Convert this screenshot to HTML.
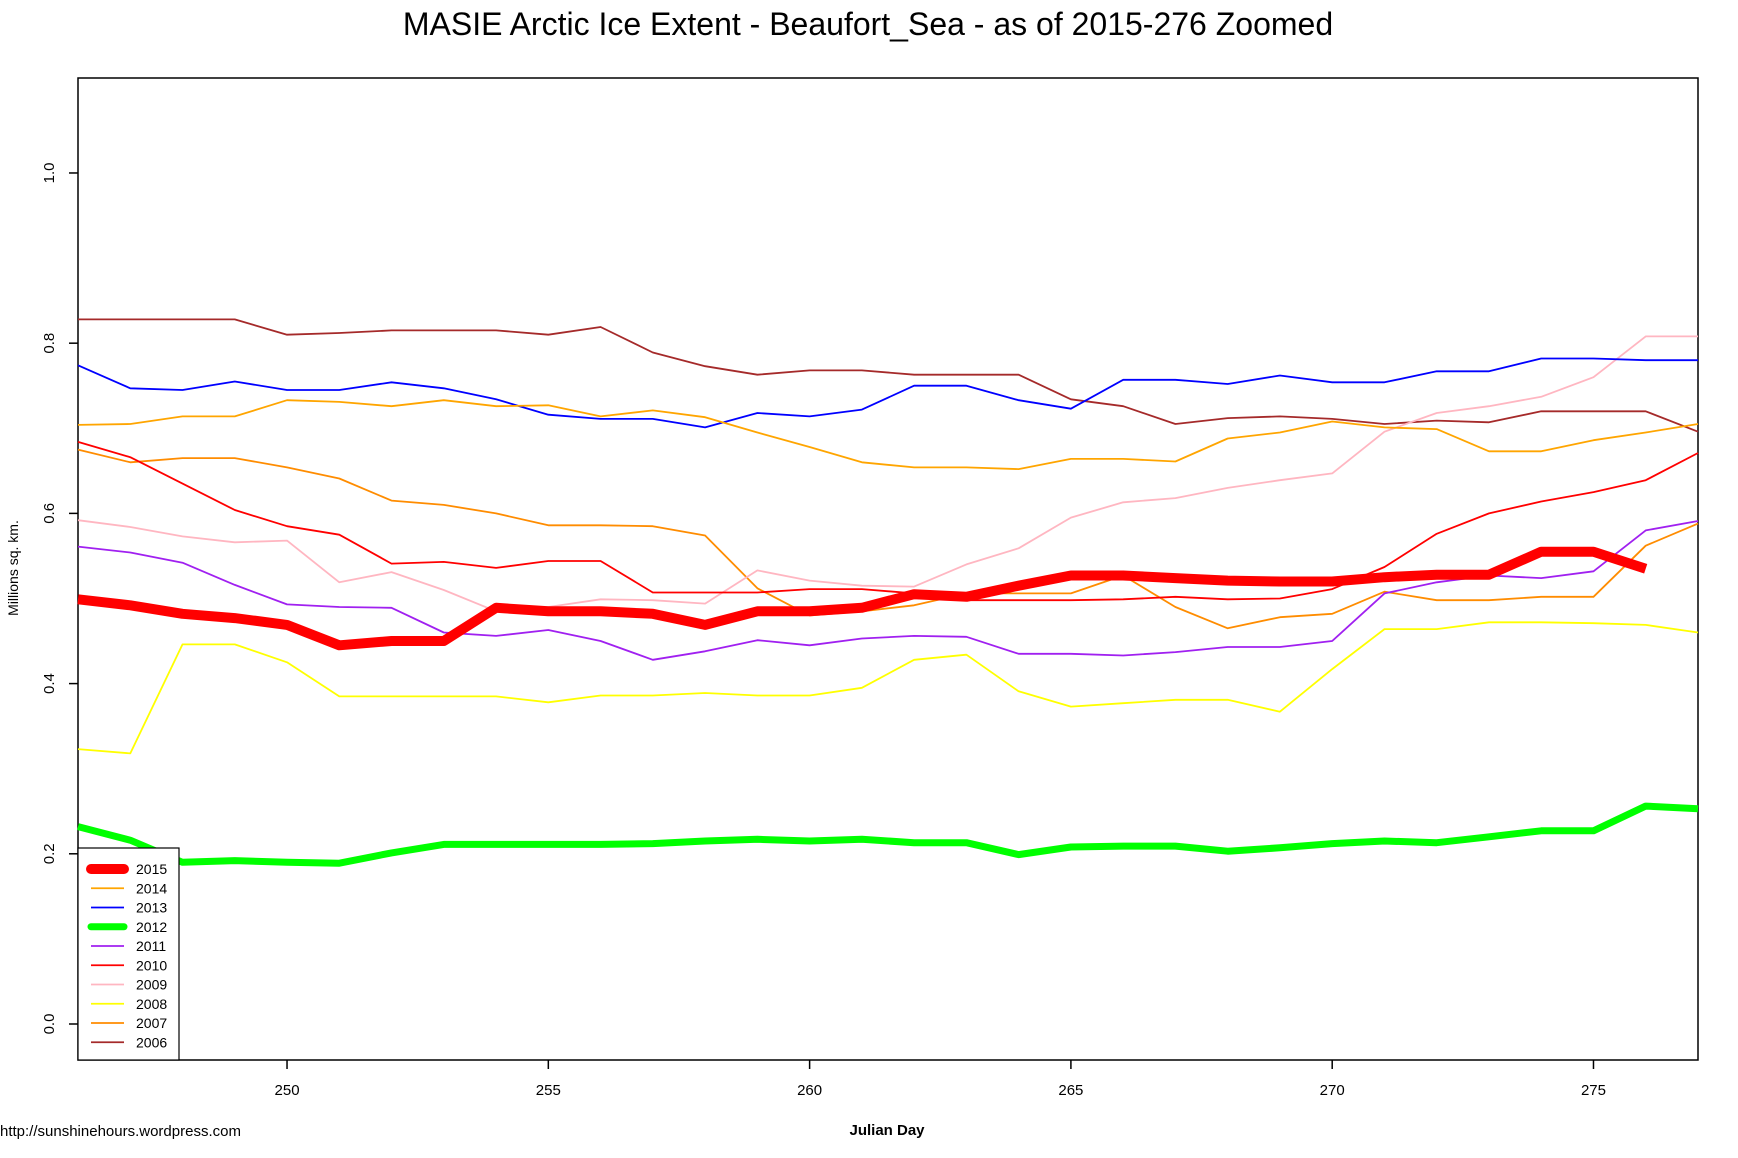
<!DOCTYPE html>
<html><head><meta charset="utf-8"><style>
html,body{margin:0;padding:0;background:#fff;}
svg{display:block;font-family:"Liberation Sans",Arial,sans-serif;}
</style></head><body>
<svg id="chart" width="1738" height="1158" viewBox="0 0 1738 1158">
<text x="868" y="35" font-size="32" text-anchor="middle">MASIE Arctic Ice Extent - Beaufort_Sea - as of 2015-276 Zoomed</text>
<rect x="78" y="78" width="1620" height="982" fill="none" stroke="#000" stroke-width="1.5"/>
<g id="series"></g>
<g id="axes"></g>
<g id="legend"></g>
<text transform="translate(18,568) rotate(-90)" font-size="14" text-anchor="middle">Millions sq. km.</text>
<text x="887" y="1135" font-size="15" font-weight="bold" text-anchor="middle">Julian Day</text>
<text x="0" y="1136" font-size="15">http://sunshinehours.wordpress.com</text>
</svg>
<script>
const years=["2015","2014","2013","2012","2011","2010","2009","2008","2007","2006"];
const colors=["#FF0000","#FFA500","#0000FF","#00FF00","#A020F0","#FF0000","#FFB6C1","#FFFF00","#FF8C00","#A52A2A"];
const widths=[10,1.8,1.8,7,1.8,1.8,1.8,1.8,1.8,1.8];
const startDay=246;
const xTicks=[250,255,260,265,270,275];
const yTicks=["0.0","0.2","0.4","0.6","0.8","1.0"];
const s2015=[.499,.492,.482,.477,.469,.445,.450,.450,.489,.485,.485,.482,.469,.485,.485,.489,.505,.502,.515,.527,.527,.524,.521,.520,.520,.525,.528,.528,.555,.555,.535];
const s2014=[.704,.705,.714,.714,.733,.731,.726,.733,.726,.727,.714,.721,.713,.695,.678,.660,.654,.654,.652,.664,.664,.661,.688,.695,.708,.701,.699,.673,.673,.686,.695,.705];
const s2013=[.774,.747,.745,.755,.745,.745,.754,.747,.734,.716,.711,.711,.701,.718,.714,.722,.750,.750,.733,.723,.757,.757,.752,.762,.754,.754,.767,.767,.782,.782,.780,.780];
const s2012=[.232,.216,.190,.192,.190,.189,.201,.211,.211,.211,.211,.212,.215,.217,.215,.217,.213,.213,.199,.208,.209,.209,.203,.207,.212,.215,.213,.220,.227,.227,.256,.253];
const s2011=[.561,.554,.542,.516,.493,.490,.489,.460,.456,.463,.450,.428,.438,.451,.445,.453,.456,.455,.435,.435,.433,.437,.443,.443,.450,.506,.519,.527,.524,.532,.580,.591];
const s2010=[.684,.666,.635,.604,.585,.575,.541,.543,.536,.544,.544,.507,.507,.507,.511,.511,.506,.498,.498,.498,.499,.502,.499,.500,.511,.537,.576,.600,.614,.625,.639,.671];
const s2009=[.592,.584,.573,.566,.568,.519,.531,.510,.485,.490,.499,.498,.494,.533,.521,.515,.514,.540,.559,.595,.613,.618,.630,.639,.647,.696,.718,.726,.737,.760,.808,.808];
const s2008=[.323,.318,.446,.446,.425,.385,.385,.385,.385,.378,.386,.386,.389,.386,.386,.395,.428,.434,.391,.373,.377,.381,.381,.367,.417,.464,.464,.472,.472,.471,.469,.460];
const s2007=[.675,.660,.665,.665,.654,.641,.615,.610,.600,.586,.586,.585,.574,.512,.480,.485,.492,.506,.506,.506,.527,.490,.465,.478,.482,.508,.498,.498,.502,.502,.562,.588];
const s2006=[.828,.828,.828,.828,.810,.812,.815,.815,.815,.810,.819,.789,.773,.763,.768,.768,.763,.763,.763,.734,.726,.705,.712,.714,.711,.705,.709,.707,.720,.720,.720,.696];
const seriesData=[s2015,s2014,s2013,s2012,s2011,s2010,s2009,s2008,s2007,s2006];

const NS="http://www.w3.org/2000/svg";
const X0=78,X1=1698,Y0=78,Y1=1060,DMIN=246,DMAX=277,VMIN=-0.0423,VMAX=1.1116;
function xs(d){return X0+(d-DMIN)/(DMAX-DMIN)*(X1-X0);}
function ys(v){return Y1-(v-VMIN)/(VMAX-VMIN)*(Y1-Y0);}
function mk(tag,attrs,parent){const e=document.createElementNS(NS,tag);for(const k in attrs)e.setAttribute(k,attrs[k]);parent.appendChild(e);return e;}

const sg=document.getElementById('series');
for(let i=seriesData.length-1;i>=0;i--){
  const pts=seriesData[i].map((v,j)=>xs(startDay+j).toFixed(1)+','+ys(v).toFixed(1)).join(' ');
  const pl=mk('polyline',{points:pts,fill:'none',stroke:colors[i],'stroke-width':widths[i],'stroke-linejoin':'round'},sg);
  
  
}
const ag=document.getElementById('axes');
xTicks.forEach(t=>{
  const x=xs(t);
  const l=mk('line',{x1:x,x2:x,y1:Y1,y2:Y1+9,stroke:'#000','stroke-width':1.5},ag);
  
  
  const tx=mk('text',{x:x,y:1095,'font-size':15,'text-anchor':'middle'},ag);
  tx.textContent=t;
  
  
});
yTicks.forEach(t=>{
  const y=ys(parseFloat(t));
  const l=mk('line',{x1:X0-9,x2:X0,y1:y,y2:y,stroke:'#000','stroke-width':1.5},ag);
  
  
  const tx=mk('text',{transform:'translate(54,'+y+') rotate(-90)','font-size':15,'text-anchor':'middle'},ag);
  tx.textContent=t;
  
  
});
const lg=document.getElementById('legend');
const box=mk('rect',{x:78,y:848,width:101,height:212,fill:'#fff',stroke:'#000','stroke-width':1.2},lg);


years.forEach((yr,i)=>{
  const y=869+i*19.25;
  const l=mk('line',{x1:91,x2:124,y1:y,y2:y,stroke:colors[i],'stroke-width':widths[i],'stroke-linecap':widths[i]>5?'round':'butt'},lg);
  
  
  const tx=mk('text',{x:136,y:y+5,'font-size':14},lg);
  tx.textContent=yr;
  
  
});
</script>
</body></html>
